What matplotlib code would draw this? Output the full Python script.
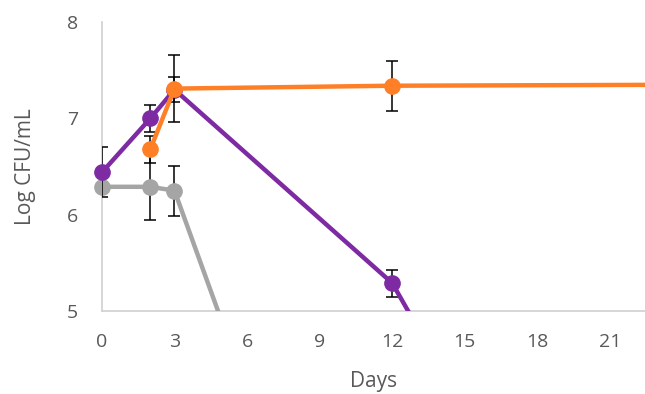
import numpy as np
from matplotlib import pyplot as plt

plt.rcParams['font.family'] = ['Open Sans', 'DejaVu Sans']

# purple series
days_p = [0, 2, 3, 12, 24]
log_p = [6.44, 7.00, 7.30, 5.29, 0.0]
err_p = [0.26, 0.14, 0.13, 0.14, 0.0]

# orange series
days_o = [2, 3, 12, 24]
log_o = [6.68, 7.31, 7.34, 7.35]
err_o = [0.14, 0.35, 0.26, 0.0]

# gray series
days_g = [0, 2, 3, 12]
log_g = [6.29, 6.29, 6.25, 0.0]
err_g = [0.0, 0.35, 0.26, 0.0]

xticks = [0, 3, 6, 9, 12, 15, 18, 21]
yticks = [5, 6, 7, 8]

fig = plt.figure(figsize=(6.45, 3.94), dpi=100)
ax = fig.add_axes([0.158, 0.2107, 0.842, 0.733])

txt = '#595959'
for i, (d, v, e, c) in enumerate([(days_g, log_g, err_g, '#A5A5A5'),
                                  (days_p, log_p, err_p, '#7D2AA3'),
                                  (days_o, log_o, err_o, '#FF7F27')]):
    d, v, e = np.array(d), np.array(v), np.array(e)
    z = 3 + i
    m = e > 0
    ax.errorbar(d[m], v[m], yerr=e[m], fmt='none', ecolor='black',
                elinewidth=1.1, capsize=4.3, capthick=1.1, zorder=z)
    ax.plot(d, v, color=c, lw=3.2, zorder=z + 0.1)
    vis = v >= 5
    ax.plot(d[vis], v[vis], ls='none', marker='o', ms=11, color=c,
            zorder=z + 0.2, clip_on=False)

ax.set_xlim(0, 22.45)
ax.set_ylim(5, 8)
ax.set_xticks(xticks)
ax.set_yticks(yticks)
ax.tick_params(axis='x', length=0, labelsize=14, labelcolor=txt, pad=16)
ax.tick_params(axis='y', length=0, labelsize=14, labelcolor=txt, pad=17)
for s in ['top', 'right']:
    ax.spines[s].set_visible(False)
for s in ['left', 'bottom']:
    ax.spines[s].set_color('#D0D0D0')
    ax.spines[s].set_linewidth(1.2)
ax.set_xlabel('Days', fontsize=15, color=txt, labelpad=14)
ax.set_ylabel('Log CFU/mL', fontsize=15, color=txt, labelpad=22)

fig.savefig('out.png', dpi=100)
